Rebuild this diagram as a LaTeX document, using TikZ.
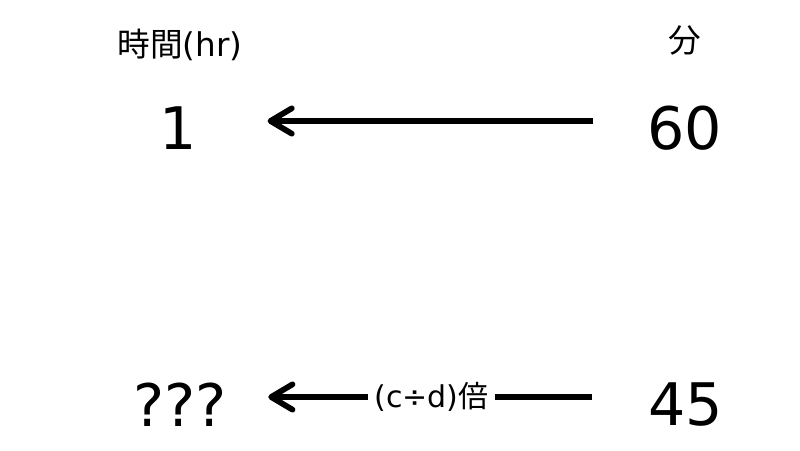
\documentclass[tikz,border=0pt]{standalone}
\usepackage{fontspec}
\setmainfont{DejaVu Sans}
\newfontfamily\cjk{Noto Sans CJK JP}
\usetikzlibrary{arrows.meta}
\tikzset{
  val/.style={inner sep=0pt, font=\fontsize{44}{50}\selectfont},
  head/.style={inner sep=0pt, font=\fontsize{24.5}{28}\selectfont},
  arr/.style={line width=4.3pt, -{Straight Barb[length=16pt,width=19pt,line cap=round,line join=round]}},
  lab/.style={fill=white, inner xsep=5pt, inner ysep=2pt, font=\fontsize{22.5}{26}\selectfont}
}
\begin{document}
\begin{tikzpicture}[x=0.75pt,y=-0.75pt]
\useasboundingbox (0,0) rectangle (800,450);
\node[head] (hhr) at (180,45) {{\cjk 時間}(hr)};
\node[head] (hmin) at (685,40) {\cjk 分};
\node[val] (n1) at (178,128) {1};
\node[val] (n60) at (685,128) {60};
\node[val] (nq) at (180,405) {???};
\node[val] (n45) at (686,405) {45};
\draw[arr, shorten <=41pt, shorten >=53pt] ([yshift=5.25pt]n60.west) -- ([yshift=5.25pt]n1.east);
\draw[arr, shorten <=42pt, shorten >=31pt] ([yshift=6pt]n45.west) -- ([yshift=6pt]nq.east)
  node[lab, pos=0.515] (lbl) {(c÷d){\cjk 倍}};
\end{tikzpicture}
\end{document}
